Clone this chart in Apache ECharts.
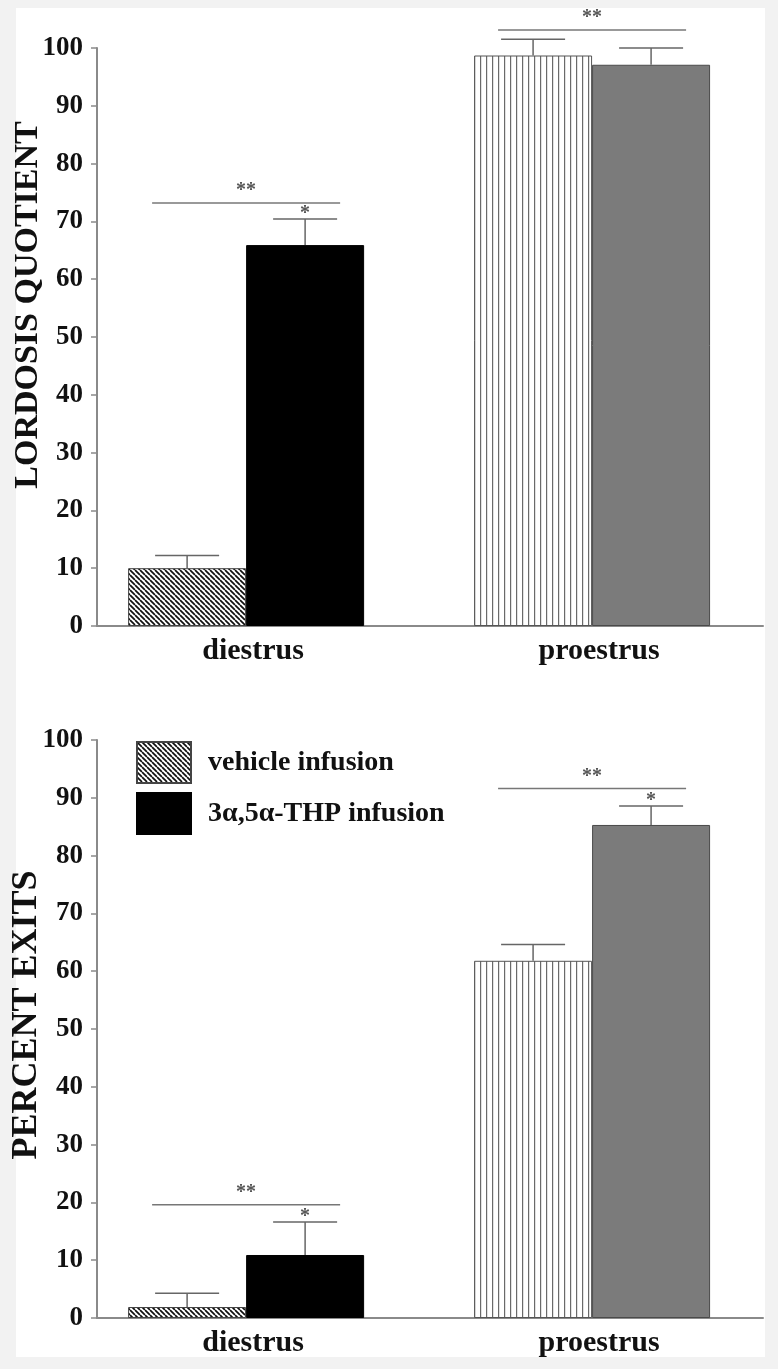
<!DOCTYPE html>
<html><head><meta charset="utf-8">
<script src="https://cdn.jsdelivr.net/npm/echarts@6/dist/echarts.min.js"></script>
<style>
html,body{margin:0;padding:0;background:#f2f2f2;width:778px;height:1369px;overflow:hidden}
#panel{position:absolute;left:16px;top:8px;width:749px;height:1349px;background:#fff}
#chart{position:absolute;left:0;top:0;width:778px;height:1369px}
</style></head><body>
<div id="panel"></div><div id="chart"></div>
<script>
// ---- data ----
const categories = ['diestrus', 'proestrus'];
const seriesNames = ['vehicle infusion', '3α,5α-THP infusion'];
const axisTitles = ['LORDOSIS QUOTIENT', 'PERCENT EXITS'];

const lordosisVehicle    = [10.0, 98.7];
const lordosisVehicleErr = [2.2, 2.8];
const lordosisTHP        = [65.9, 97.1];
const lordosisTHPErr     = [4.5, 2.9];
const lordosisBracket    = [73.2, 103.1];   // '**' line level per category
const lordosisStar       = [true, false];   // '*' over THP bar

const exitsVehicle    = [1.9, 61.8];
const exitsVehicleErr = [2.4, 2.8];
const exitsTHP        = [10.9, 85.3];
const exitsTHPErr     = [5.7, 3.3];
const exitsBracket    = [19.6, 91.6];
const exitsStar       = [true, true];

// ---- styles ----
const SERIF = "'Liberation Serif','Times New Roman',serif";
const BAR_W = 118;
const AXIS_C = '#8a8a8a';
const ANN_C = '#666';

function hatchPattern() {
  const s = 5, c = document.createElement('canvas');
  c.width = c.height = s;
  const g = c.getContext('2d');
  g.fillStyle = '#fff'; g.fillRect(0, 0, s, s);
  g.strokeStyle = '#111'; g.lineWidth = 1.7;
  g.beginPath();
  for (const o of [-s, 0, s]) { g.moveTo(o, 0); g.lineTo(o + s, s); }
  g.stroke();
  return c;
}
function stripePattern() {
  const c = document.createElement('canvas');
  c.width = 6; c.height = 4;
  const g = c.getContext('2d');
  g.fillStyle = '#fff'; g.fillRect(0, 0, 6, 4);
  g.fillStyle = '#6a6a6a'; g.fillRect(0, 0, 1.2, 4);
  return c;
}
const HATCH = { image: hatchPattern(), repeat: 'repeat' };
const STRIPE = { image: stripePattern(), repeat: 'repeat' };

const pos = i => i + 1;

function barSeries(gi, idx, vals) {
  const isVeh = idx === 0;
  return {
    type: 'bar', name: seriesNames[idx], xAxisIndex: gi, yAxisIndex: gi,
    barWidth: BAR_W, barGap: '0%', z: 2,
    itemStyle: isVeh ? { color: HATCH, borderColor: '#444', borderWidth: 1 }
                     : { color: '#000', borderColor: '#000', borderWidth: 1 },
    data: vals.map((v, i) => i === 0 ? [pos(i), v] : {
      value: [pos(i), v],
      itemStyle: isVeh ? { color: STRIPE, borderColor: '#555', borderWidth: 1 }
                       : { color: '#7b7b7b', borderColor: '#4a4a4a', borderWidth: 1 }
    })
  };
}

function errSeries(gi, side, vals, errs) {
  return {
    type: 'custom', xAxisIndex: gi, yAxisIndex: gi, z: 5, silent: true, clip: false,
    data: vals.map((v, i) => [pos(i), v, v + errs[i]]),
    renderItem(params, api) {
      const base = api.coord([api.value(0), api.value(1)]);
      const top = api.coord([api.value(0), api.value(2)]);
      const x = base[0] + side * BAR_W / 2;
      return { type: 'group', children: [
        { type: 'line', shape: { x1: x, y1: base[1], x2: x, y2: top[1] }, style: { stroke: ANN_C, lineWidth: 1.5 } },
        { type: 'line', shape: { x1: x - 32, y1: top[1], x2: x + 32, y2: top[1] }, style: { stroke: ANN_C, lineWidth: 1.5 } }
      ]};
    }
  };
}

function bracketSeries(gi, levels) {
  return {
    type: 'custom', xAxisIndex: gi, yAxisIndex: gi, z: 6, silent: true, clip: false,
    data: levels.map((v, i) => [pos(i), v]),
    renderItem(params, api) {
      const p = api.coord([api.value(0), api.value(1)]);
      return { type: 'group', children: [
        { type: 'line', shape: { x1: p[0] - 94, y1: p[1], x2: p[0] + 94, y2: p[1] }, style: { stroke: '#777', lineWidth: 1.5 } },
        { type: 'text', x: p[0], y: p[1] - 12, style: { text: '**', fill: '#555', font: 'bold 20px ' + SERIF, align: 'center', verticalAlign: 'middle' } }
      ]};
    }
  };
}

function starSeries(gi, vals, errs, flags) {
  const d = [];
  vals.forEach((v, i) => { if (flags[i]) d.push([pos(i), v + errs[i]]); });
  return {
    type: 'custom', xAxisIndex: gi, yAxisIndex: gi, z: 6, silent: true, clip: false,
    data: d,
    renderItem(params, api) {
      const p = api.coord([api.value(0), api.value(1)]);
      return { type: 'text', x: p[0] + BAR_W / 2, y: p[1] - 5,
        style: { text: '*', fill: '#555', font: 'bold 20px ' + SERIF, align: 'center', verticalAlign: 'middle' } };
    }
  };
}

function xAxis(gi) {
  return {
    type: 'value', gridIndex: gi, min: 0.569, max: 2.494,
    axisLine: { show: true, onZero: false, lineStyle: { color: AXIS_C, width: 2 } },
    axisTick: { show: false }, splitLine: { show: false },
    axisLabel: {
      customValues: [1, 2],
      formatter: v => categories[Math.round(v) - 1] || '',
      fontFamily: SERIF, fontWeight: 'bold', fontSize: 30, color: '#111', margin: 10,
      padding: [0, 0, 0, 14]
    }
  };
}
function yAxis(gi, shift) {
  return {
    type: 'value', gridIndex: gi, min: 0, max: 100, interval: 10,
    name: axisTitles[gi], nameLocation: 'middle', nameGap: 52, nameMoveOverlap: false,
    nameTextStyle: { fontFamily: SERIF, fontWeight: 'bold', fontSize: gi === 0 ? 34 : 36, color: '#111', padding: [0, 0, 0, shift] },
    axisLine: { show: true, lineStyle: { color: AXIS_C, width: 2 } },
    axisTick: { show: true, length: 6, lineStyle: { color: AXIS_C, width: 1.5 } },
    axisLabel: { fontFamily: SERIF, fontWeight: 'bold', fontSize: 27, color: '#111', margin: 14 },
    splitLine: { show: false }
  };
}

const chart = echarts.init(document.getElementById('chart'), null, { renderer: 'canvas' });
chart.setOption({
  animation: false,
  backgroundColor: 'transparent',
  grid: [
    { left: 97, top: 48, width: 666, height: 578, containLabel: false, outerBoundsMode: 'none' },
    { left: 97, top: 740, width: 666, height: 578, containLabel: false, outerBoundsMode: 'none' }
  ],
  xAxis: [xAxis(0), xAxis(1)],
  yAxis: [yAxis(0, 64), yAxis(1, 28)],
  legend: {
    data: seriesNames, left: 136, top: 741, orient: 'vertical',
    itemWidth: 54, itemHeight: 41, itemGap: 8, icon: 'rect', selectedMode: false, padding: 0,
    textStyle: { fontFamily: SERIF, fontWeight: 'bold', fontSize: 28, color: '#111', padding: [0, 0, 4, 12] }
  },
  series: [
    barSeries(0, 0, lordosisVehicle), barSeries(0, 1, lordosisTHP),
    errSeries(0, -1, lordosisVehicle, lordosisVehicleErr), errSeries(0, 1, lordosisTHP, lordosisTHPErr),
    bracketSeries(0, lordosisBracket), starSeries(0, lordosisTHP, lordosisTHPErr, lordosisStar),
    barSeries(1, 0, exitsVehicle), barSeries(1, 1, exitsTHP),
    errSeries(1, -1, exitsVehicle, exitsVehicleErr), errSeries(1, 1, exitsTHP, exitsTHPErr),
    bracketSeries(1, exitsBracket), starSeries(1, exitsTHP, exitsTHPErr, exitsStar)
  ]
});
</script></body></html>
